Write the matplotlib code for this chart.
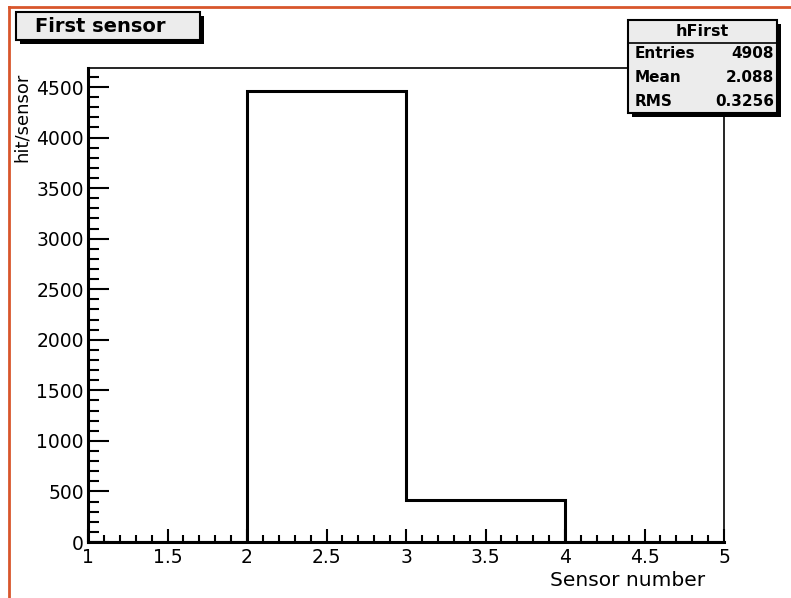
import numpy as np
import matplotlib
matplotlib.use("Agg")
import matplotlib.pyplot as plt
from matplotlib.patches import Rectangle
from matplotlib.ticker import MultipleLocator

# histogram hFirst: sensor number of the first hit
bin_edges = [1, 2, 3, 4, 5]
bin_counts = [0, 4465, 412, 0]

stats_title = "hFirst"
stats_labels = ["Entries", "Mean", "RMS"]
stats_values = ["4908", "2.088", "0.3256"]

title_text = "First sensor"
x_title = "Sensor number"
y_title = "hit/sensor"

plt.rcParams['font.family'] = ['DejaVu Sans']

W, H = 791, 598
fig = plt.figure(figsize=(W / 100, H / 100), dpi=100)
fig.patch.set_facecolor("white")

# main frame (pixel box 88..724 x 68..542)
ax = fig.add_axes([88 / W, 1 - 542 / H, (724 - 88) / W, (542 - 68) / H])
ax.stairs(bin_counts, bin_edges, color="black", lw=2.2, baseline=0)
ax.set_xlim(bin_edges[0], bin_edges[-1])
ax.set_ylim(0, 1.05 * max(bin_counts))

ax.xaxis.set_major_locator(MultipleLocator(0.5))
ax.xaxis.set_minor_locator(MultipleLocator(0.1))
ax.yaxis.set_major_locator(MultipleLocator(500))
ax.yaxis.set_minor_locator(MultipleLocator(100))
ax.set_xticks(np.arange(1, 5.01, 0.5))
ax.set_xticklabels(["1", "1.5", "2", "2.5", "3", "3.5", "4", "4.5", "5"])

ax.tick_params(axis="y", which="major", direction="in", length=15, width=1.5,
               labelsize=13.5, pad=3, right=False)
ax.tick_params(axis="y", which="minor", direction="in", length=8, width=1.5, right=False)
ax.tick_params(axis="x", which="major", direction="in", length=9.5, width=1.5,
               labelsize=13.5, pad=4, top=False)
ax.tick_params(axis="x", which="minor", direction="in", length=5, width=1.5, top=False)

for s in ["left", "bottom"]:
    ax.spines[s].set_linewidth(2.2)
for s in ["top", "right"]:
    ax.spines[s].set_linewidth(1.2)

# overlay in pixel coordinates for the ROOT-style boxes
ov = fig.add_axes([0, 0, 1, 1])
ov.set_xlim(0, W)
ov.set_ylim(H, 0)
ov.axis("off")

# canvas border (orange)
ov.plot([9, 9], [7, H], color="#d8562c", lw=2)
ov.plot([9, W], [7, 7], color="#d8562c", lw=2)

# title box
ov.add_patch(Rectangle((20, 16), 184, 28, facecolor="black", edgecolor="black", lw=0))
ov.add_patch(Rectangle((16, 12), 184, 28, facecolor="#ececec", edgecolor="black", lw=1.5))
ov.text(35, 26, title_text, fontsize=14, fontweight="bold", ha="left", va="center")

# stats box
ov.add_patch(Rectangle((632, 24), 149, 93, facecolor="black", edgecolor="black", lw=0))
ov.add_patch(Rectangle((628, 20), 149, 93, facecolor="#ececec", edgecolor="black", lw=1.5))
ov.plot([628, 777], [43, 43], color="black", lw=1.2)
ov.text(702, 31, stats_title, fontsize=11.5, fontweight="bold", ha="center", va="center")
for i, (lab, val) in enumerate(zip(stats_labels, stats_values)):
    yy = 54 + i * 23.5
    ov.text(635, yy, lab, fontsize=11, fontweight="bold", ha="left", va="center")
    ov.text(774, yy, val, fontsize=11, fontweight="bold", ha="right", va="center")

# axis titles
ov.text(705, 580, x_title, fontsize=14.5, ha="right", va="center")
ov.text(22, 73, y_title, fontsize=13, rotation=90, ha="center", va="top")

fig.savefig("out.png", dpi=100)
